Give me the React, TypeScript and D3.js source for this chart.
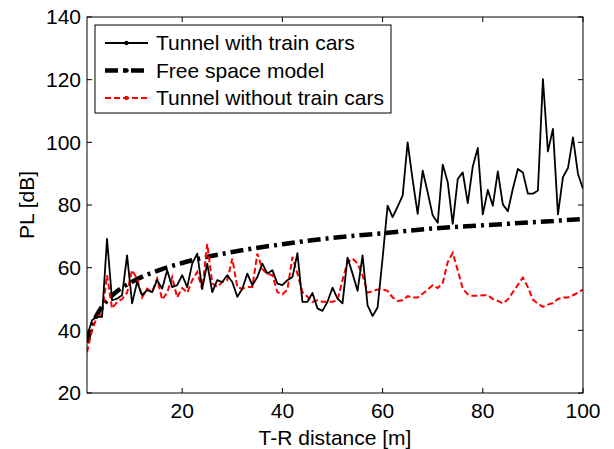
import * as d3 from "d3";
import React, { useRef, useEffect } from "react";

// distance [m], 1..100
const dist = d3.range(1, 101);

// Tunnel with train cars (one value per metre)
const withCars = [
  38, 43.2, 44.3, 44.3, 69.2, 49.6, 50.1, 51.2, 63.9, 48.6,
  55.4, 51.2, 52.8, 52.2, 56, 53.3, 59.2, 53.8, 54.4, 57.6,
  53.8, 61.3, 64.5, 53.3, 61.3, 52.2, 56, 55.4, 57.6, 55.4,
  50.7, 53.3, 58.1, 54.4, 57, 61.3, 58.1, 59.2, 54.9, 54.4,
  56, 57, 64.6, 49.1, 49.1, 51.9, 47, 46.2, 49.1, 53.6,
  50.1, 48.6, 63.2, 58.1, 52.6, 63.9, 48, 44.6, 47.3, 63,
  79.8, 76.1, 79.5, 83, 100, 88, 77.2, 91, 84, 76.7,
  74.3, 92.9, 87.3, 74, 88.3, 90.4, 80.6, 92.3, 98.2, 77,
  84.8, 79.8, 90.7, 80.2, 78, 85.2, 91.5, 90.4, 83.6, 83.6,
  84.6, 120.2, 97.1, 104.3, 77, 88.9, 91.8, 101.6, 89.9, 85.2,
];

// Tunnel without train cars
const withoutCars = [
  33, 40, 44.3, 45.4, 57.6, 47, 49, 50, 52, 59.2,
  56.5, 50.5, 53.3, 52.2, 56.5, 49.8, 52, 57, 50.5, 53.5,
  52, 56, 58.6, 53, 67.6, 55, 53.8, 55.4, 56, 62.9,
  53.8, 53.3, 53.8, 53.8, 64.5, 59.5, 58, 57.6, 52.2, 51.5,
  53, 63.4, 58.1, 52.2, 50.7, 49.1, 49.6, 49.1, 49.1, 49.1,
  49.6, 56, 61.8, 62.9, 61.3, 57.6, 52, 52.5, 53, 53,
  52.6, 50.5, 49.4, 49.6, 50.9, 50.5, 50.5, 51.7, 53, 54.4,
  53.5, 55.1, 61.8, 64.7, 59.2, 53.3, 51.5, 51, 51, 51.2,
  51.2, 50, 49.4, 48.6, 49.8, 52.2, 54.5, 56.8, 53.8, 49.8,
  48.5, 47.5, 48.2, 48.7, 50, 50.5, 50.5, 51.2, 52, 53,
];

// Free space model, sampled points
const fsDist = [1, 2, 3, 5, 7, 10, 15, 20, 30, 40, 50, 60, 70, 80, 90, 100];
const fsPL = [36, 41.5, 45, 49.5, 52.5, 55.5, 59, 61.5, 65, 67.5, 69.5, 71, 72.5, 73.5, 74.5, 75.5];

const xTicks = [20, 40, 60, 80, 100];
const yTicks = [20, 40, 60, 80, 100, 120, 140];

const legendLabels = ["Tunnel with train cars", "Free space model", "Tunnel without train cars"];

const App = () => {
  const svgRef = useRef<SVGSVGElement>(null);

  useEffect(() => {
    const svg = d3.select(svgRef.current);
    svg.selectAll("*").remove();

    const margin = { top: 17, right: 31, bottom: 56, left: 87 };
    const width = 614 - margin.left - margin.right;
    const height = 449 - margin.top - margin.bottom;
    const font = "Liberation Sans, Arial, Helvetica, sans-serif";
    const fs = "21px";

    const x = d3.scaleLinear().domain([1, 100]).range([0, width]);
    const y = d3.scaleLinear().domain([20, 140]).range([height, 0]);

    const g = svg.append("g").attr("transform", `translate(${margin.left},${margin.top})`);

    const line = d3
      .line<[number, number]>()
      .x((d) => x(d[0]))
      .y((d) => y(d[1]));

    const fsLine = d3
      .line<[number, number]>()
      .x((d) => x(d[0]))
      .y((d) => y(d[1]))
      .curve(d3.curveMonotoneX);

    const blackData = dist.map((d, i) => [d, withCars[i]] as [number, number]);
    const redData = dist.map((d, i) => [d, withoutCars[i]] as [number, number]);
    const fsData = fsDist.map((d, i) => [d, fsPL[i]] as [number, number]);

    // clip to the axes box
    svg.append("defs").append("clipPath").attr("id", "clip")
      .append("rect").attr("width", width).attr("height", height);

    const plot = g.append("g").attr("clip-path", "url(#clip)");

    plot.append("path")
      .datum(fsData)
      .attr("d", fsLine)
      .attr("fill", "none")
      .attr("stroke", "black")
      .attr("stroke-width", 4.5)
      .attr("stroke-dasharray", "13,5,3,5");

    plot.append("path")
      .datum(redData)
      .attr("d", line)
      .attr("fill", "none")
      .attr("stroke", "#ff0000")
      .attr("stroke-width", 2)
      .attr("stroke-dasharray", "6,3");

    plot.append("path")
      .datum(blackData)
      .attr("d", line)
      .attr("fill", "none")
      .attr("stroke", "black")
      .attr("stroke-width", 1.8)
      .attr("stroke-linejoin", "round");

    // axes box
    g.append("rect")
      .attr("width", width)
      .attr("height", height)
      .attr("fill", "none")
      .attr("stroke", "black")
      .attr("stroke-width", 1);

    const tl = 5;
    // x ticks, inward on bottom and top
    xTicks.forEach((t) => {
      g.append("line").attr("x1", x(t)).attr("x2", x(t)).attr("y1", height).attr("y2", height - tl).attr("stroke", "black");
      g.append("line").attr("x1", x(t)).attr("x2", x(t)).attr("y1", 0).attr("y2", tl).attr("stroke", "black");
      g.append("text")
        .attr("x", x(t))
        .attr("y", height + 25)
        .attr("text-anchor", "middle")
        .style("font-family", font)
        .style("font-size", fs)
        .text(t);
    });

    // y ticks
    yTicks.forEach((t) => {
      g.append("line").attr("x1", 0).attr("x2", tl).attr("y1", y(t)).attr("y2", y(t)).attr("stroke", "black");
      g.append("line").attr("x1", width).attr("x2", width - tl).attr("y1", y(t)).attr("y2", y(t)).attr("stroke", "black");
      g.append("text")
        .attr("x", -6)
        .attr("y", y(t))
        .attr("dy", "0.35em")
        .attr("text-anchor", "end")
        .style("font-family", font)
        .style("font-size", fs)
        .text(t);
    });

    // axis labels
    g.append("text")
      .attr("x", width / 2)
      .attr("y", height + 52)
      .attr("text-anchor", "middle")
      .style("font-family", font)
      .style("font-size", fs)
      .text("T-R distance [m]");

    g.append("text")
      .attr("transform", `translate(${-53},${height / 2}) rotate(-90)`)
      .attr("text-anchor", "middle")
      .style("font-family", font)
      .style("font-size", fs)
      .text("PL [dB]");

    // legend
    const lg = svg.append("g").attr("transform", "translate(95,25)");
    lg.append("rect")
      .attr("width", 296)
      .attr("height", 88)
      .attr("fill", "white")
      .attr("stroke", "black");

    const styles = [
      { color: "black", w: 1.8, dash: null },
      { color: "black", w: 4.5, dash: "13,5,3,5" },
      { color: "#ff0000", w: 2, dash: "6,3" },
    ];

    legendLabels.forEach((lab, i) => {
      const cy = 18 + i * 27.5;
      const s = styles[i];
      const l = lg.append("line")
        .attr("x1", 10).attr("x2", 53)
        .attr("y1", cy).attr("y2", cy)
        .attr("stroke", s.color)
        .attr("stroke-width", s.w);
      if (s.dash) l.attr("stroke-dasharray", s.dash);
      lg.append("circle").attr("cx", 31.5).attr("cy", cy).attr("r", 2.2).attr("fill", s.color);
      lg.append("text")
        .attr("x", 61)
        .attr("y", cy)
        .attr("dy", "0.35em")
        .style("font-family", font)
        .style("font-size", fs)
        .text(lab);
    });
  }, []);

  return (
    <div style={{ position: "absolute", left: 0, top: 0, width: 614, height: 449, background: "white" }}>
      <svg ref={svgRef} width={614} height={449}></svg>
    </div>
  );
};

export default App;
